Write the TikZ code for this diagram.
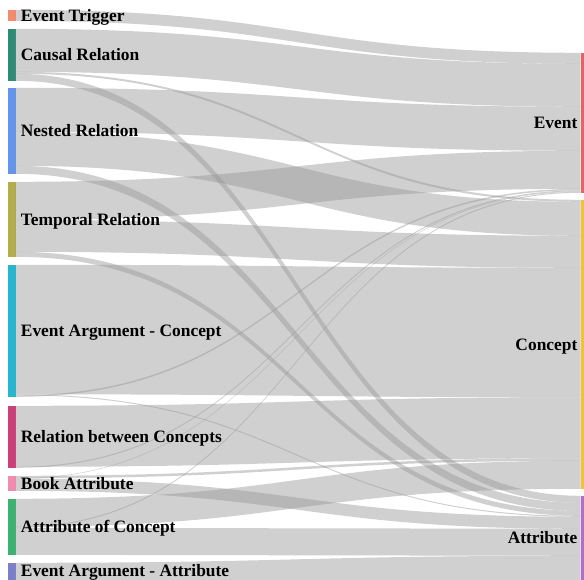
\documentclass[tikz,border=0pt]{standalone}
\usepackage{fontspec}
\setmainfont{Liberation Serif}
\definecolor{trigcol}{HTML}{F58B6B}
\definecolor{causcol}{HTML}{2E8B76}
\definecolor{nestcol}{HTML}{6495ED}
\definecolor{tempcol}{HTML}{B3AD4C}
\definecolor{argccol}{HTML}{27B6CF}
\definecolor{relccol}{HTML}{CC3F78}
\definecolor{bookcol}{HTML}{F28BB0}
\definecolor{attccol}{HTML}{3CB371}
\definecolor{argacol}{HTML}{7A80C8}
\definecolor{eventcol}{HTML}{E06666}
\definecolor{conccol}{HTML}{F2C232}
\definecolor{attrcol}{HTML}{B36BD0}

\begin{document}
\begin{tikzpicture}[x=1pt,y=-1pt,
  bar/.style={rectangle,inner sep=0pt,minimum width=7.5pt,fill=#1},
  link/.style={fill={rgb,255:red,150;green,150;blue,150},fill opacity=0.45},
  lab/.style={inner sep=0pt,text=black,font=\bfseries\fontsize{17.4}{20}\selectfont}]
  \clip (0,0) rectangle (584,580);
  \node[bar=trigcol,minimum height=11pt] (et) at (11.75,15.5) {};
  \node[bar=causcol,minimum height=52pt] (cr) at (11.75,55) {};
  \node[bar=nestcol,minimum height=86pt] (nr) at (11.75,131) {};
  \node[bar=tempcol,minimum height=75pt] (tr) at (11.75,219.5) {};
  \node[bar=argccol,minimum height=132pt] (eac) at (11.75,331) {};
  \node[bar=relccol,minimum height=62pt] (rbc) at (11.75,437) {};
  \node[bar=bookcol,minimum height=15pt] (ba) at (11.75,483.5) {};
  \node[bar=attccol,minimum height=56pt] (aoc) at (11.75,527) {};
  \node[bar=argacol,minimum height=24pt] (eaa) at (11.75,575) {};
  \node[bar=eventcol,minimum height=140pt] (ev) at (584.5,123) {};
  \node[bar=conccol,minimum height=289pt] (co) at (584.5,344.5) {};
  \node[bar=attrcol,minimum height=84pt] (at) at (584.5,538) {};
  \foreach \s/\a/\t/\b/\w in {et/0/ev/0/11, cr/0/ev/11/43, cr/43/co/0/2, cr/45/at/0/7,
      nr/0/ev/54/44, nr/44/co/2/34, nr/78/at/7/8, tr/0/ev/98/38, tr/38/co/36/32, tr/70/at/15/5,
      eac/0/co/68/129.5, eac/129.5/at/20/1, eac/130.5/ev/136/1.5, rbc/0/co/197.5/61, rbc/61/ev/137.5/1,
      ba/0/co/258.5/2.5, ba/2.5/ev/138.5/0.5, ba/3/at/21/12, aoc/0/co/261/28, aoc/28/ev/139/1,
      aoc/29/at/33/27, eaa/0/at/60/24}
    \fill[link] ([yshift={-\a*1pt}]\s.north east) .. controls +(282.75,0) and +(-282.75,0) .. ([yshift={-\b*1pt}]\t.north west)
      -- ([yshift={-(\b+\w)*1pt}]\t.north west) .. controls +(-282.75,0) and +(282.75,0) .. ([yshift={-(\a+\w)*1pt}]\s.north east) -- cycle;
  \node[lab,anchor=base west] (et-t) at ([xshift=5pt,yshift=-5.8pt]et.east) {Event Trigger};
  \node[lab,anchor=base west] (cr-t) at ([xshift=5pt,yshift=-5.8pt]cr.east) {Causal Relation};
  \node[lab,anchor=base west] (nr-t) at ([xshift=5pt,yshift=-5.8pt]nr.east) {Nested Relation};
  \node[lab,anchor=base west] (tr-t) at ([xshift=5pt,yshift=-5.8pt]tr.east) {Temporal Relation};
  \node[lab,anchor=base west] (eac-t) at ([xshift=5pt,yshift=-5.8pt]eac.east) {Event Argument - Concept};
  \node[lab,anchor=base west] (rbc-t) at ([xshift=5pt,yshift=-5.8pt]rbc.east) {Relation between Concepts};
  \node[lab,anchor=base west] (ba-t) at ([xshift=5pt,yshift=-5.8pt]ba.east) {Book Attribute};
  \node[lab,anchor=base west] (aoc-t) at ([xshift=5pt,yshift=-5.8pt]aoc.east) {Attribute of Concept};
  \node[lab,anchor=base west] (eaa-t) at ([xshift=5pt,yshift=-1pt]eaa.east) {Event Argument - Attribute};
  \node[lab,anchor=base east] (ev-t) at ([xshift=-3pt,yshift=-5.8pt]ev.west) {Event};
  \node[lab,anchor=base east] (co-t) at ([xshift=-3pt,yshift=-5.8pt]co.west) {Concept};
  \node[lab,anchor=base east] (at-t) at ([xshift=-3pt,yshift=-5.8pt]at.west) {Attribute};
\end{tikzpicture}
\end{document}
